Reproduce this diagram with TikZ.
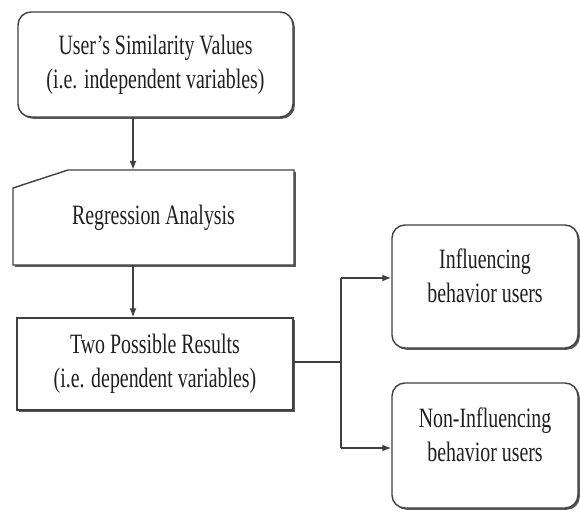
\documentclass[tikz,border=0pt]{standalone}
\usepackage{fontspec}
\setmainfont{Liberation Serif}[FakeStretch=0.71]
\usetikzlibrary{arrows.meta,shadows}
\begin{document}
\begin{tikzpicture}[x=1pt,y=-1pt,
  line/.style={draw=black!75, line width=1.4pt},
  arr/.style={line, -{Latex[length=9pt,width=7pt]}},
  shad/.style={drop shadow={shadow xshift=1.8pt, shadow yshift=-1.8pt, fill=black!65, opacity=1}},
  txt/.style={align=center, text=black!88, font=\fontsize{28}{34}\selectfont, inner sep=0pt},
  rbox/.style={txt, line, fill=white, rounded corners=13pt, shad},
  sbox/.style={txt, line, fill=white, shad},
  upshift/.style={text depth=21pt}]
\useasboundingbox (0,0) rectangle (580,511);
\coordinate (ax) at (133,0);
\node[rbox, minimum width=275pt, minimum height=105pt] (b1) at (155.5,64.5) {User’s Similarity Values\\(i.e. independent variables)};
\draw[line, fill=white, shad] (13,188) -- (68,170) -- (294,170) -- (294,265) -- (13,265) -- cycle;
\node[txt, minimum width=281pt, minimum height=95pt] (reg) at (153.5,217.5) {Regression Analysis};
\node[sbox, minimum width=276pt, minimum height=92pt] (b3) at (155,364) {Two Possible Results\\(i.e. dependent variables)};
\node[rbox, upshift, minimum width=186pt, minimum height=123pt] (b4) at (485,286.5) {Influencing\\behavior users};
\node[rbox, upshift, minimum width=186pt, minimum height=125pt] (b5) at (485,445.5) {Non-Influencing\\behavior users};
\draw[arr] (b1.south -| ax) -- (reg.north -| ax);
\draw[arr] (reg.south -| ax) -- (b3.north -| ax);
\coordinate (j) at (341,362);
\coordinate (t4) at (341,278);
\coordinate (t5) at (341,448);
\draw[line] (b3.east |- j) -- (j);
\draw[line] (t4) -- (t5);
\draw[arr] (t4) -- (b4.west |- t4);
\draw[arr] (t5) -- (b5.west |- t5);
\end{tikzpicture}
\end{document}
